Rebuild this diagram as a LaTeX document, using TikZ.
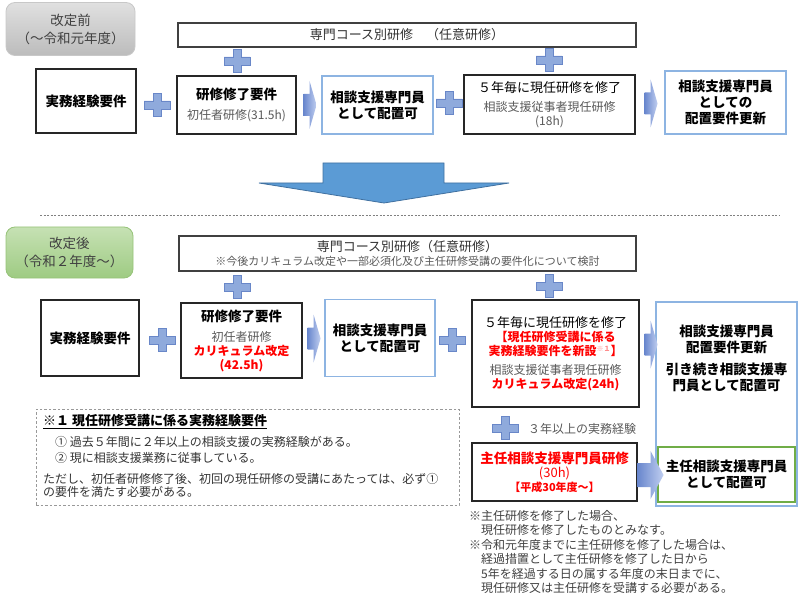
\documentclass[tikz,border=0pt]{standalone}
\usepackage{fontspec}
\setmainfont{Noto Sans CJK JP}
\usepackage{tikz}
\usetikzlibrary{calc}
\definecolor{plusfill}{RGB}{143,170,220}
\definecolor{plusedge}{RGB}{105,135,200}
\definecolor{arrdark}{RGB}{105,135,205}
\definecolor{arrlight}{RGB}{192,206,240}
\definecolor{downfill}{RGB}{91,155,213}
\definecolor{downedge}{RGB}{65,113,160}
\definecolor{skyedge}{RGB}{141,180,226}
\definecolor{leafedge}{RGB}{112,173,71}
\definecolor{txtgray}{RGB}{89,89,89}
\definecolor{redtxt}{RGB}{255,0,0}
\definecolor{greytop}{RGB}{224,224,224}
\definecolor{greybot}{RGB}{188,188,188}
\definecolor{greyedge}{RGB}{200,200,200}
\definecolor{greentop}{RGB}{198,225,180}
\definecolor{greenbot}{RGB}{158,203,130}
\definecolor{greenedge}{RGB}{150,195,120}
\newcommand{\fsz}[2]{\fontsize{#1pt}{#2pt}\selectfont}
\newcommand{\bfbig}{\fsz{13.5}{16}\bfseries}
\newcommand{\redbf}{\bfseries\color{redtxt}}
\tikzset{
  plussign/.pic={\draw[plusedge,fill=plusfill,line width=0.6pt] (-4,-11.5) -- (4,-11.5) -- (4,-4) -- (13,-4) -- (13,4) -- (4,4) -- (4,11.5) -- (-4,11.5) -- (-4,4) -- (-13,4) -- (-13,-4) -- (-4,-4) -- cycle;},
  chevron/.pic={\shade[left color=arrdark,right color=arrlight] (0,-11) -- (6,-11) -- (6,-24) -- (13,0) -- (6,24) -- (6,11) -- (0,11) -- cycle;},
  blockarrow/.pic={\shade[left color=arrdark,right color=arrlight] (0,-12) -- (13,-12) -- (13,-24) -- (26,0) -- (13,24) -- (13,12) -- (0,12) -- cycle;}
}

\begin{document}
\begin{tikzpicture}[x=1pt,y=-1pt,
  plainbox/.style={draw=black!85,line width=1.1pt,fill=white,align=center,inner sep=1pt,font=\fsz{12}{14}},
  skybox/.style={plainbox,draw=skyedge,font=\bfbig},
  coursebox/.style={plainbox,draw=black!75,text=black!80},
  stagebox/.style={rounded corners=9pt,line width=0.8pt,align=center,font=\fsz{13.5}{18},text=black!75}]
  \useasboundingbox (0,0) rectangle (804,599);
  % before the revision
  \node[stagebox,draw=greyedge,top color=greytop,bottom color=greybot,minimum width=129pt,minimum height=53pt] (before) at (70.5,29) {改定前\\（～令和元年度）};
  \node[coursebox,minimum width=458pt,minimum height=24pt,font=\fsz{13}{15}] (course1) at (407,35) {専門コース別研修　（任意研修）};
  \node[plainbox,minimum width=100pt,minimum height=64pt,font=\bfbig] (exp1) at (86,101) {実務経験要件};
  \node[plainbox,minimum width=119pt,minimum height=58pt] (train1) at (236.5,105) {{\bfbig 研修修了要件}\\[6pt]{\color{txtgray}初任者研修(31.5h)}};
  \node[skybox,minimum width=111pt,minimum height=58pt] (place1) at (377.5,105) {相談支援専門員\\として配置可};
  \node[plainbox,minimum width=171pt,minimum height=59pt] (renew1) at (549.5,104.5) {{\fsz{13}{15}５年毎に現任研修を修了}\\[5pt]{\color{txtgray}相談支援従事者現任研修}\\{\color{txtgray}(18h)}};
  \node[skybox,minimum width=121pt,minimum height=63pt] (update1) at (725.5,102.5) {相談支援専門員\\としての\\配置要件更新};
  \foreach \x/\y in {237/61,549/60,157/105,449/103} \pic at (\x,\y) {plussign};
  \pic at ($(train1.east)+(7,0)$) {chevron};
  \pic at ($(renew1.east)+(9,-1)$) {chevron};
  % big arrow and separator
  \draw[downedge,fill=downfill,line width=0.8pt] (323,163) -- (444,163) -- (444,183) -- (509,183) -- (384,203) -- (259,183) -- (323,183) -- cycle;
  \draw[gray,dash pattern=on 2pt off 1.5pt] (40,215) -- (780,215);
  % after the revision
  \node[stagebox,draw=greenedge,top color=greentop,bottom color=greenbot,minimum width=127pt,minimum height=51pt] (after) at (69.5,252.5) {改定後\\（令和２年度～）};
  \node[coursebox,minimum width=457pt,minimum height=35pt] (course2) at (407.5,253.5) {{\fsz{13}{15}専門コース別研修（任意研修）}\\{\fsz{11}{12.5}\color{txtgray}※今後カリキュラム改定や一部必須化及び主任研修受講の要件化について検討}};
  \node[plainbox,minimum width=98pt,minimum height=76pt,font=\bfbig] (exp2) at (90,338) {実務経験要件};
  \node[plainbox,minimum width=121pt,minimum height=75pt] (train2) at (241.5,340.5) {{\bfbig 研修修了要件}\\[6pt]{\color{txtgray}初任者研修}\\{\redbf カリキュラム改定}\\{\redbf (42.5h)}};
  \node[skybox,minimum width=110pt,minimum height=77pt] (place2) at (380,338) {相談支援専門員\\として配置可};
  \node[plainbox,minimum width=167pt,minimum height=107pt] (renew2) at (555.5,353.5) {{\fsz{13}{15}５年毎に現任研修を修了}\\{\redbf 【現任研修受講に係る}\\{\redbf 実務経験要件を新設{\fsz{7}{8}\color{red!45}\raisebox{4pt}{※１}}】}\\[5pt]{\color{txtgray}相談支援従事者現任研修}\\{\redbf カリキュラム改定(24h)}};
  \node[skybox,minimum width=141pt,minimum height=204pt] (update2) at (726.5,404) {};
  \node[align=center,font=\bfbig,inner sep=0pt] (update2txt) at (726.5,358) {相談支援専門員\\配置要件更新\\[6pt]引き続き相談支援専\\門員として配置可};
  \node[skybox,draw=leafedge,minimum width=137pt,minimum height=55pt] (chiefok) at (726.5,474.5) {主任相談支援専門員\\として配置可};
  \node[plainbox,minimum width=165pt,minimum height=58pt] (chief) at (554.5,472) {{\fsz{13.5}{15}\redbf 主任相談支援専門員研修}\\{\fsz{13}{14}\color{redtxt}(30h)}\\{\fsz{11}{12}\redbf 【平成30年度～】}};
  \node[anchor=west,font=\fsz{12}{14},text=txtgray,inner sep=0pt] (years) at (528,429) {３年以上の実務経験};
  \foreach \x/\y in {237/287,549/286,162/340,452/340,505/428} \pic at (\x,\y) {plussign};
  \pic at ($(train2.east)+(5,-2)$) {chevron};
  \pic at ($(renew2.east)+(5,-9)$) {chevron};
  \pic at ($(chief.east)+(0,3)$) {blockarrow};
  % footnote box
  \node[draw=gray!80,line width=0.9pt,dash pattern=on 2.5pt off 2pt,minimum width=423pt,minimum height=96pt] (note1) at (247.5,457) {};
  \node[anchor=west,align=left,font=\fsz{12}{13.5},text=black!80,inner sep=0pt] (note1txt) at (43,456) {{\fsz{13}{14}\bfseries\color{black}\underline{※１ 現任研修受講に係る実務経験要件}}\\[6pt]　① 過去５年間に２年以上の相談支援の実務経験がある。\\[2.5pt]　② 現に相談支援業務に従事している。\\[7.5pt]ただし、初任者研修修了後、初回の現任研修の受講にあたっては、必ず①\\の要件を満たす必要がある。};
  % remarks
  \node[anchor=north west,align=left,font=\fsz{12}{14.5},text=black!75,inner sep=0pt] (remarks) at (469,510) {※主任研修を修了した場合、\\　現任研修を修了したものとみなす。\\※令和元年度までに主任研修を修了した場合は、\\　経過措置として主任研修を修了した日から\\　5年を経過する日の属する年度の末日までに、\\　現任研修又は主任研修を受講する必要がある。};
\end{tikzpicture}
\end{document}
